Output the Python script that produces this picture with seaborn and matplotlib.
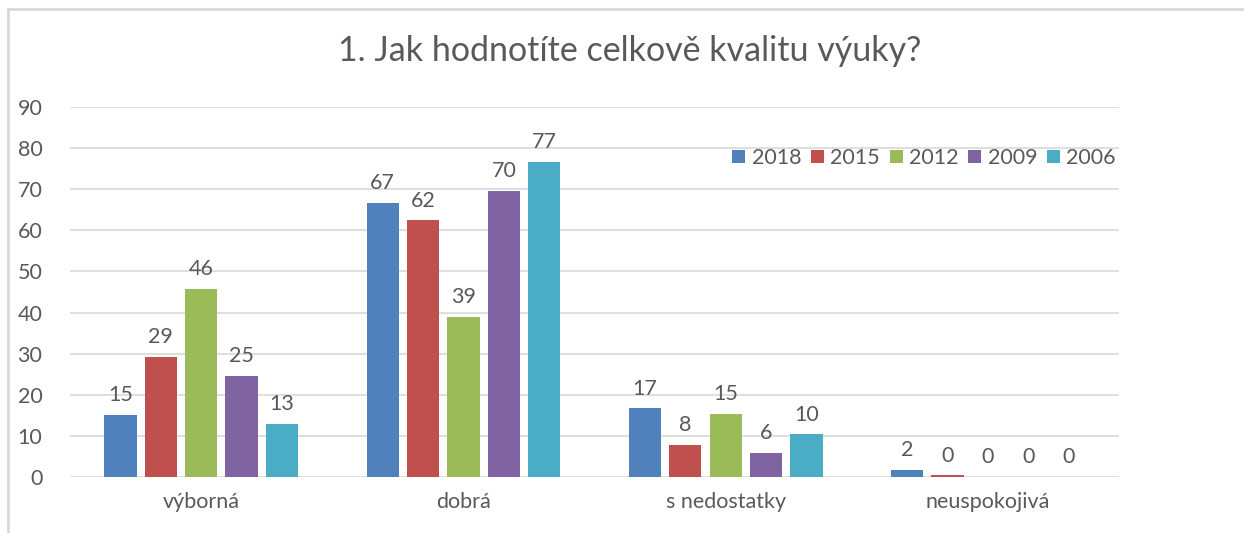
import pandas as pd
import numpy as np
import matplotlib.pyplot as plt
import matplotlib.lines as mlines
import seaborn as sns

categories = ["výborná", "dobrá", "s nedostatky", "neuspokojivá"]
years = ["2018", "2015", "2012", "2009", "2006"]
v2018 = [15.1, 66.7, 16.7, 1.7]
v2015 = [29.3, 62.4, 7.9, 0.4]
v2012 = [45.8, 38.9, 15.4, 0.0]
v2009 = [24.6, 69.6, 5.8, 0.0]
v2006 = [12.9, 76.6, 10.4, 0.0]
colors = ["#4F81BD", "#C0504D", "#9BBB59", "#8064A2", "#4BACC6"]
title = "1. Jak hodnotíte celkově kvalitu výuky?"

series = [v2018, v2015, v2012, v2009, v2006]
rows = []
for year, vals in zip(years, series):
    for cat, v in zip(categories, vals):
        rows.append({"kategorie": cat, "rok": year, "hodnota": v})
df = pd.DataFrame(rows)

sns.set_theme(style="white")
plt.rcParams["font.family"] = ["Lato", "DejaVu Sans"]
text_color = "#595959"
grid_color = "#d9d9d9"
fs = 15.5

fig = plt.figure(figsize=(12.44, 5.33), dpi=100)
ax = fig.add_axes([0.0563, 0.105, 0.8433, 0.6943])

sns.barplot(data=df, x="kategorie", y="hodnota", hue="rok", order=categories,
            hue_order=years, palette=colors, width=0.77, gap=0.2,
            saturation=1, edgecolor="none", ax=ax)

for cont in ax.containers:
    ax.bar_label(cont, fmt="%.0f", padding=7, fontsize=fs, color=text_color)

ax.set_ylim(0, 90)
ax.set_xlim(-0.5, 3.5)
ax.set_yticks(np.arange(0, 91, 10))
ax.yaxis.grid(True, color=grid_color, linewidth=1.2)
ax.set_axisbelow(True)
for s in ax.spines.values():
    s.set_visible(False)
ax.tick_params(axis="both", length=0, labelsize=fs, labelcolor=text_color)
ax.tick_params(axis="y", pad=20)
ax.tick_params(axis="x", pad=11)
ax.set_xlabel("")
ax.set_ylabel("")

leg = ax.legend(loc="center right", bbox_to_anchor=(1.005, 0.862), ncol=5,
                frameon=False, fontsize=fs, handlelength=0.6, handleheight=0.6,
                handletextpad=0.3, columnspacing=0.45, borderaxespad=0)
for t in leg.get_texts():
    t.set_color(text_color)

fig.text(0.506, 0.905, title, ha="center", va="center", fontsize=24.5,
         color=text_color)

# chart frame remnants
fig.add_artist(mlines.Line2D([8 / 1244, 1], [1 - 9 / 533, 1 - 9 / 533],
                             color=grid_color, linewidth=2))
fig.add_artist(mlines.Line2D([8 / 1244, 8 / 1244], [0, 1 - 9 / 533],
                             color=grid_color, linewidth=2))

fig.savefig("out.png", dpi=100)
